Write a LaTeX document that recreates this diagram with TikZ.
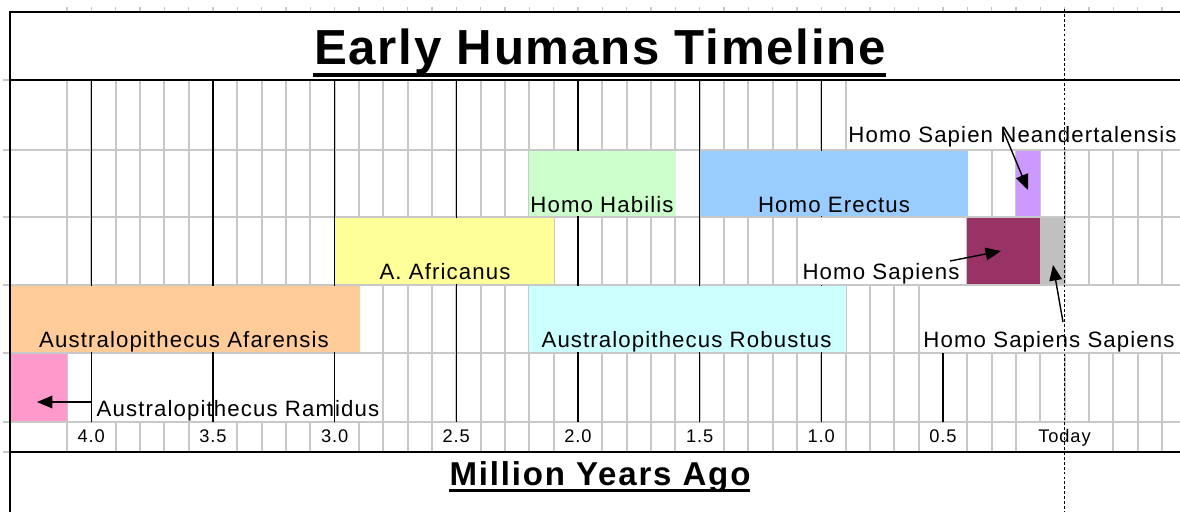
\documentclass[tikz,border=0pt]{standalone}
\usepackage{fontspec}
\setmainfont{Liberation Sans}
\newfontfamily\labfont[LetterSpace=5]{Liberation Sans}
\newfontfamily\headfont[LetterSpace=3.5]{Liberation Sans}
\newfontfamily\subheadfont[LetterSpace=5.5]{Liberation Sans}
\usetikzlibrary{arrows.meta}
\definecolor{gridgray}{RGB}{200,200,200}
\definecolor{cHabilis}{HTML}{CCFFCC}
\definecolor{cErectus}{HTML}{99CCFF}
\definecolor{cNeander}{HTML}{CC99FF}
\definecolor{cAfricanus}{HTML}{FFFF99}
\definecolor{cSapiens}{HTML}{993366}
\definecolor{cSapSap}{HTML}{C0C0C0}
\definecolor{cAfarensis}{HTML}{FFCC99}
\definecolor{cRobustus}{HTML}{CCFFFF}
\definecolor{cRamidus}{HTML}{FF99CC}
\begin{document}
\begin{tikzpicture}[x=0.025cm,y=-0.025cm,
  gridline/.style={gridgray,line width=1.2pt},
  majorline/.style={black,line width=1.1pt},
  frameline/.style={black,line width=2.1pt},
  lab/.style={inner sep=0pt,anchor=base,text=black,font=\labfont\fontsize{15.8}{18}\selectfont},
  axlab/.style={inner sep=0pt,anchor=base,text=black,font=\labfont\fontsize{13}{15}\selectfont},
  headtext/.style={inner sep=0pt,anchor=base,text=black},
  pointer/.style={-{Triangle[length=11pt,width=9pt]},line width=1pt,black},
]
\useasboundingbox (0,0) rectangle (1180,512);
\fill[white] (0,0) rectangle (1180,512);

% grid stubs outside the frame
\foreach \k in {0,...,45}{\draw[gridgray,line width=0.8pt] ({67+24.333*\k},7) -- ({67+24.333*\k},12);}
\foreach \yy in {80,150,217,285,353,422,452}{\draw[gridgray,line width=0.8pt] (3,\yy) -- (10,\yy);}

% gray vertical grid lines
\foreach \k in {0,...,45}{\draw[gridline] ({67+24.333*\k},80) -- ({67+24.333*\k},422);}
\foreach \k in {0,2,3,4,5,7,8,9,10,12,13,14,15,17,18,19,20,22,23,24,25,27,28,29,30,32,33,34,35,37,38,39,43,44,45}{
  \draw[gridline] ({67+24.333*\k},422) -- ({67+24.333*\k},452);}
% gray horizontal grid lines
\foreach \yy in {150,217,285,353,422}{\draw[gridline] (10,\yy) -- (1180,\yy);}

% hidden grid where text overflows
\fill[white] (847,81) rectangle (1180,149);
\fill[white] (798.5,218) rectangle (966,284);
\fill[white] (919.5,286) rectangle (1180,352);
\fill[white] (68,354) rectangle (382,421);

% major lines (every 0.5 million years)
\foreach \xx in {91.3,213,334.7,456.3,578,699.7}{\draw[majorline] (\xx,80) -- (\xx,422);}
\draw[majorline] (821.3,80) -- (821.3,217);
\draw[majorline] (821.3,285) -- (821.3,422);
\draw[majorline] (943,353) -- (943,422);

% species bars
\fill[cHabilis]   (529,150.7) rectangle (675.5,216.3);
\fill[cErectus]   (700.3,150.7) rectangle (968,216.3);
\fill[cNeander]   (1016.3,150.7) rectangle (1040,216.3);
\fill[cAfricanus] (335.3,217.7) rectangle (553.5,284.3);
\fill[cSapiens]   (967.3,217.7) rectangle (1040,284.3);
\fill[cSapSap]    (1040,217.7) rectangle (1064,284.3);
\fill[cAfarensis] (11,285.7) rectangle (359.5,352.3);
\fill[cRobustus]  (529,285.7) rectangle (846,352.3);
\fill[cRamidus]   (11,353.7) rectangle (67,421.3);

% frame
\draw[frameline] (1180,12) -- (10,12) -- (10,512);
\draw[frameline] (10,80) -- (1180,80);
\draw[frameline] (10,452) -- (1180,452);

% title
\node[headtext,font=\headfont\bfseries\fontsize{35}{40}\selectfont] (title) at (600,65) {Early Humans Timeline};
\fill[black] (313,73) rectangle (886,77);

% species labels
\node[lab] (habilis) at (602,212) {Homo Habilis};
\node[lab] (erectus) at (834,212) {Homo Erectus};
\node[lab] (neander) at (1012.5,143) {Homo Sapien Neandertalensis};
\node[lab] (africanus) at (445,279) {A. Africanus};
\node[lab] (sapiens) at (881,279) {Homo Sapiens};
\node[lab] (afarensis) at (184,347) {Australopithecus Afarensis};
\node[lab] (robustus) at (686.5,347) {Australopithecus Robustus};
\node[lab] (sapsap) at (1049,347) {Homo Sapiens Sapiens};
\node[lab] (ramidus) at (238,416) {Australopithecus Ramidus};

% axis labels
\node[axlab] (t40) at (91.3,442) {4.0};
\node[axlab] (t35) at (213,442) {3.5};
\node[axlab] (t30) at (334.7,442) {3.0};
\node[axlab] (t25) at (456.3,442) {2.5};
\node[axlab] (t20) at (578,442) {2.0};
\node[axlab] (t15) at (699.7,442) {1.5};
\node[axlab] (t10) at (821.3,442) {1.0};
\node[axlab] (t05) at (943,442) {0.5};
\node[axlab] (today) at (1064.5,442) {Today};

% axis title
\node[headtext,font=\subheadfont\bfseries\fontsize{23.5}{28}\selectfont] (xtitle) at (600,485) {Million Years Ago};
\fill[black] (449,489) rectangle (750,492);

% pointers
\coordinate (ramFrom) at (91.3,402);
\coordinate (ramTip) at (37,402);
\coordinate (neaFrom) at (1003,130);
\coordinate (neaTip) at (1028,190);
\coordinate (sapFrom) at (950,261);
\coordinate (sapTip) at (1001,251);
\coordinate (ssFrom) at (1063,322);
\coordinate (ssTip) at (1053,265);
\draw[pointer] (ramFrom) -- (ramTip);
\draw[pointer] (neaFrom) -- (neaTip);
\draw[pointer] (sapFrom) -- (sapTip);
\draw[pointer] (ssFrom) -- (ssTip);

% today line
\coordinate (todayTop) at (1064.5,9);
\coordinate (todayBot) at (1064.5,512);
\draw[black,line width=1.1pt,dash pattern=on 2pt off 1.5pt] (todayTop) -- (todayBot);
\end{tikzpicture}
\end{document}
